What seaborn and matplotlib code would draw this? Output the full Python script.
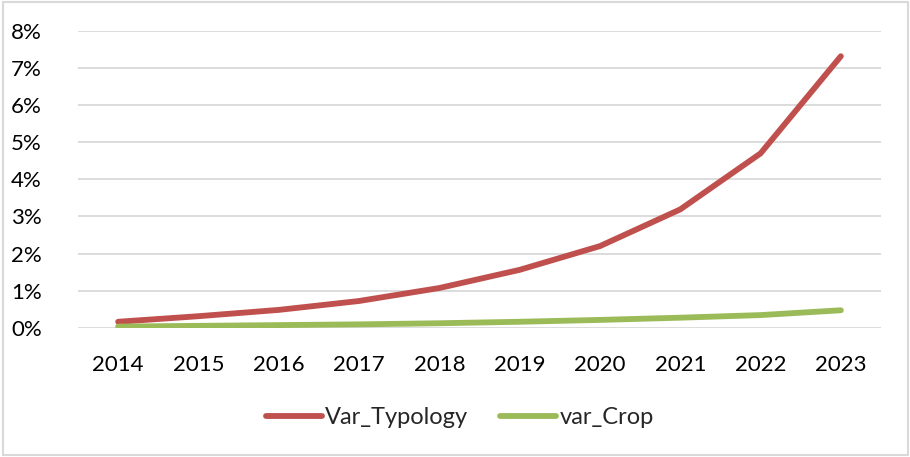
import matplotlib
matplotlib.use("Agg")
import matplotlib.pyplot as plt
import matplotlib.ticker as mticker
from matplotlib.patches import Rectangle
import seaborn as sns
import pandas as pd

years = ["2014", "2015", "2016", "2017", "2018", "2019", "2020", "2021", "2022", "2023"]
var_typology = [0.0016, 0.0031, 0.0048, 0.0072, 0.0107, 0.0156, 0.0220, 0.0319, 0.0470, 0.0732]
var_crop = [0.0003, 0.0005, 0.0007, 0.0009, 0.0012, 0.0016, 0.0021, 0.0027, 0.0034, 0.0047]
series_names = ["Var_Typology", "var_Crop"]
colors = ["#C0504D", "#9BBB59"]

df = pd.DataFrame({
    "year": years * 2,
    "value": var_typology + var_crop,
    "series": [series_names[0]] * len(years) + [series_names[1]] * len(years),
})

sns.set_style("white")
plt.rcParams["font.family"] = ["Lato", "DejaVu Sans"]

fig = plt.figure(figsize=(9.1, 4.57), dpi=100)
ax = fig.add_axes([78 / 910, 1 - 327.7 / 457, (881 - 78) / 910, (327.7 - 31) / 457])

sns.lineplot(data=df, x="year", y="value", hue="series", palette=colors,
             linewidth=4.2, ax=ax, sort=False, legend=True,
             solid_capstyle="round")

ax.set_xlim(-0.5, len(years) - 0.5)
ax.set_ylim(0, 0.08)
ax.yaxis.set_major_locator(mticker.MultipleLocator(0.01))
ax.yaxis.set_major_formatter(mticker.FuncFormatter(lambda v, p: f"{v*100:.0f}%"))
ax.grid(axis="y", color="#D9D9D9", linewidth=1.3)
ax.grid(axis="x", visible=False)
ax.set_axisbelow(True)
for s in ax.spines.values():
    s.set_visible(False)
ax.set_xlabel("")
ax.set_ylabel("")
ax.tick_params(axis="both", length=0, labelsize=16, labelcolor="#000000")
ax.tick_params(axis="x", pad=20)
ax.tick_params(axis="y", pad=26)

handles, labels = ax.get_legend_handles_labels()
for h in handles:
    h.set_solid_capstyle("round")
ax.legend(handles, labels, loc="center", bbox_to_anchor=(460 / 910, 1 - 418 / 457),
          bbox_transform=fig.transFigure, ncol=2, frameon=False, fontsize=17,
          handlelength=2.35, handletextpad=0.15, columnspacing=1.35)

fig.patches.append(Rectangle((3 / 910, 2 / 457), 905 / 910, 453 / 457,
                             transform=fig.transFigure, fill=False,
                             edgecolor="#D9D9D9", linewidth=1.5))

fig.savefig("out.png", dpi=100)
